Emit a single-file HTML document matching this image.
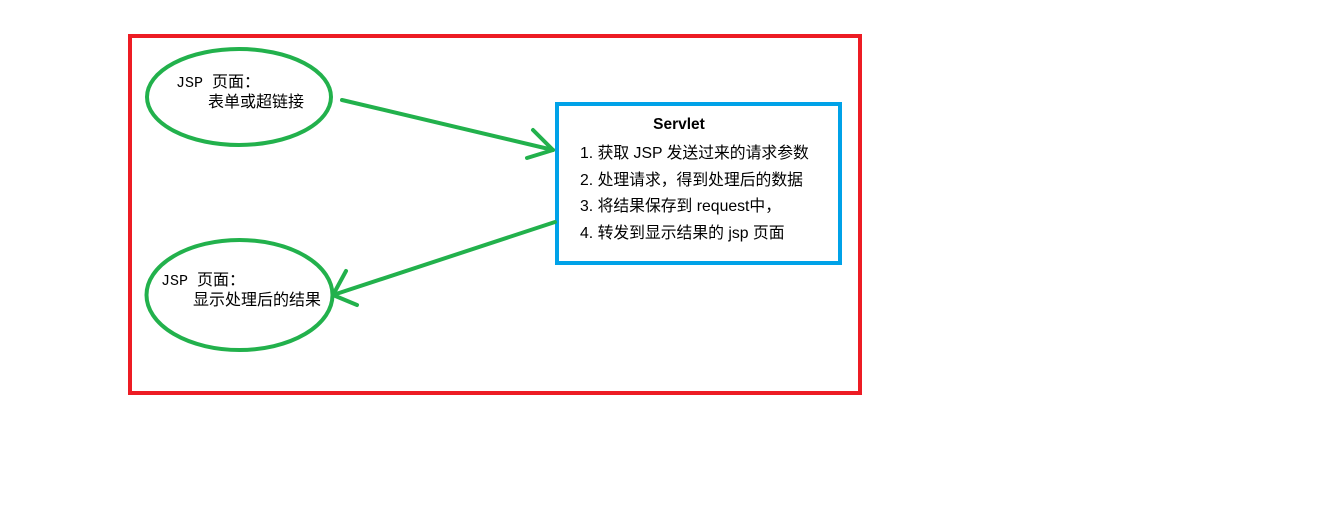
<!DOCTYPE html>
<html><head><meta charset="utf-8"><style>
html,body{margin:0;padding:0;background:#fff;width:1340px;height:529px;overflow:hidden}
svg text{font-family:"Liberation Sans","Noto Sans CJK SC",sans-serif;fill:#000}
.m{font-family:"Liberation Mono","Noto Sans CJK SC",monospace}
</style></head><body>
<svg width="1340" height="529" xmlns="http://www.w3.org/2000/svg">
<rect x="130" y="36" width="730" height="357" fill="none" stroke="#ed1c24" stroke-width="4"/>
<rect x="557" y="104" width="283" height="159" fill="none" stroke="#00a2e8" stroke-width="4"/>
<ellipse cx="239" cy="97" rx="92" ry="48" fill="none" stroke="#22b14c" stroke-width="4"/>
<ellipse cx="239.5" cy="295" rx="93" ry="55" fill="none" stroke="#22b14c" stroke-width="4"/>
<g stroke="#22b14c" stroke-width="4" fill="none" stroke-linecap="round" stroke-linejoin="round">
<line x1="342" y1="100" x2="553" y2="150"/>
<polyline points="533,130 553,150 527,158"/>
<line x1="555" y1="222" x2="333" y2="295"/>
<polyline points="346,271 333,295 357,305"/>
</g>
<text x="176" y="87" font-size="15" class="m">JSP <tspan font-size="16">页面：</tspan></text>
<text x="208" y="107" font-size="16" class="m">表单或超链接</text>
<text x="161" y="285" font-size="15" class="m">JSP <tspan font-size="16">页面：</tspan></text>
<text x="193" y="305" font-size="16" class="m">显示处理后的结果</text>
<text x="679" y="129" font-size="15.5" font-weight="bold" text-anchor="middle">Servlet</text>
<text x="580" y="158" font-size="15.8">1. 获取 JSP 发送过来的请求参数</text>
<text x="580" y="185" font-size="15.8">2. 处理请求，得到处理后的数据</text>
<text x="580" y="211" font-size="15.8">3. 将结果保存到 request中，</text>
<text x="580" y="238" font-size="15.8">4. 转发到显示结果的 jsp 页面</text>
</svg>
</body></html>
